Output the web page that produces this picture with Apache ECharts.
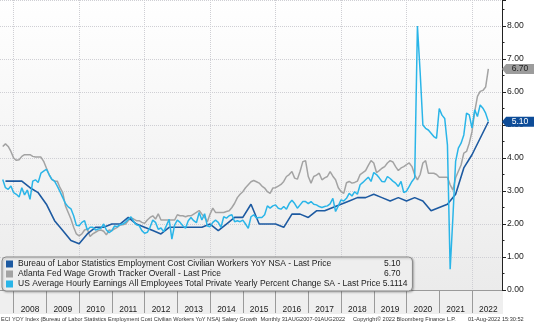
<!DOCTYPE html>
<html>
<head>
<meta charset="utf-8">
<script src="https://cdn.jsdelivr.net/npm/echarts@6/dist/echarts.min.js"></script>
<style>
  html, body { margin: 0; padding: 0; background: #ffffff; }
  #chart { width: 534px; height: 324px; }
</style>
</head>
<body>
<div id="chart"></div>
<script>
// Monthly (month-end) categories, Jul 2007 .. Nov 2022
const categories = [];
for (let k = 0; k < 185; k++) {
  const d = new Date(2007, 6 + k, 1);
  categories.push(d.getFullYear() + '-' + String(d.getMonth() + 1).padStart(2, '0'));
}
const yearLabels = ['2008','2009','2010','2011','2012','2013','2014','2015','2016','2017','2018','2019','2020','2021','2022'];

const eciName = 'Bureau of Labor Statistics Employment Cost Civilian Workers YoY NSA';
const atlName = 'Atlanta Fed Wage Growth Tracker Overall';
const aheName = 'US Average Hourly Earnings All Employees Total Private Yearly Percent Change SA';

// ECI, quarterly, quarter ends Sep 2007 .. Jun 2022
const eciFirstMonth = '2007-09';
const eciValues = [
  3.3, 3.3, 3.3, 3.1, 2.95, 2.6, 2.1, 1.8, 1.5, 1.4,
  1.7, 1.9, 1.9, 2.0, 2.0, 2.2, 2.0, 1.9, 1.8, 1.7,
  1.9, 1.9, 1.9, 1.9, 1.9, 2.0, 1.8, 2.0, 2.2, 2.2,
  2.6, 2.0, 2.0, 2.0, 1.9, 2.3, 2.3, 2.2, 2.4, 2.4,
  2.5, 2.6, 2.7, 2.8, 2.8, 2.9, 2.8, 2.7, 2.8, 2.7,
  2.8, 2.7, 2.4, 2.5, 2.6, 2.9, 3.7, 4.1, 4.6, 5.1
];

// Atlanta Fed wage tracker, monthly Aug 2007 .. Jun 2022
const atlFirstMonth = '2007-08';
const atlValues = [
  4.35, 4.43, 4.35, 4.2, 4.0,
  3.93, 3.95, 4.05, 4.1, 4.1, 4.1, 4.05, 4.03, 4.03, 4.03, 3.9, 3.7,
  3.5, 3.35, 3.3, 3.3, 3.1, 2.95, 2.55, 2.35, 2.15, 1.9, 1.7, 1.64,
  1.7, 1.82, 1.85, 1.62, 1.7, 1.75, 1.8, 1.82, 1.78, 1.67, 1.82, 1.8,
  1.85, 1.9, 1.97, 1.98, 2.0, 2.1, 2.18, 2.15, 2.1, 2.1, 2.05, 2.02,
  2.12, 2.2, 2.25, 2.15, 2.31, 2.12, 2.12, 2.12, 2.12, 2.12, 2.12, 2.28,
  2.25, 2.25, 2.22, 2.25, 2.25, 2.3, 2.35, 2.41, 2.3, 2.2, 2.07, 2.3,
  2.48, 2.35, 2.35, 2.35, 2.35, 2.38, 2.4, 2.5, 2.63, 2.8, 2.9, 2.98,
  3.1, 3.19, 3.28, 3.32, 3.28, 3.24, 3.15, 3.09, 2.98, 2.93, 3.09, 3.1,
  3.15, 3.2, 3.29, 3.44, 3.5, 3.59, 3.39, 3.36, 3.6, 3.89, 3.92, 3.44,
  3.24, 3.44, 3.48, 3.54, 3.34, 3.4, 3.44, 3.59, 3.45, 3.34, 3.1, 2.98,
  2.93, 3.25, 3.29, 3.24, 3.26, 3.3, 3.5, 3.56, 3.62, 3.78, 3.92, 3.85,
  3.56, 3.62, 3.69, 3.74, 3.85, 3.92, 3.88, 3.74, 3.62, 3.7, 3.74, 3.8,
  3.85, 3.74, 3.49, 3.34, 3.5, 3.85, 3.92, 3.54, 3.54, 3.54, 3.5, 3.42,
  3.42, 3.42, 3.42, 3.19, 3.03, 3.4, 3.6, 3.79, 4.15, 4.2, 4.45, 4.8,
  5.41, 5.87, 6.02, 6.05, 6.15, 6.7
];

// Average hourly earnings YoY, monthly Aug 2007 .. Jun 2022
const aheFirstMonth = '2007-08';
const aheValues = [
  3.35, 3.1, 3.05, 3.15, 2.95,
  2.9, 2.82, 3.1, 2.88, 3.03, 2.75, 3.3, 3.34, 3.26, 3.54, 3.6, 3.66,
  3.5, 3.35, 3.3, 3.15, 2.98, 2.8, 2.62, 2.52, 2.46, 2.25, 1.96, 1.95,
  2.05, 2.1, 1.82, 1.9, 1.9, 1.82, 1.85, 1.87, 2.0, 1.82, 1.74, 1.8,
  1.94, 1.92, 1.98, 2.0, 2.05, 2.14, 2.22, 2.07, 1.98, 1.95, 1.8, 1.72,
  1.75, 1.9, 2.12, 2.05, 1.84, 1.88, 1.77, 1.95, 2.14, 1.54, 1.97, 2.12,
  2.05, 1.95, 1.87, 2.1, 2.2, 2.1, 2.04, 2.35, 2.12, 2.31, 1.94, 1.92,
  2.05, 2.12, 2.05, 1.9, 2.22, 2.18, 2.25, 2.28, 2.07, 2.1, 2.07, 2.12,
  2.0, 1.87, 2.22, 2.28, 2.18, 2.2, 2.2, 2.28, 2.55, 2.48, 2.55, 2.58,
  2.48, 2.45, 2.53, 2.45, 2.62, 2.72, 2.62, 2.48, 2.58, 2.68, 2.68, 2.62,
  2.68, 2.6, 2.58, 2.53, 2.5, 2.53, 2.55, 2.61, 2.78, 2.38, 2.55, 2.73,
  2.7, 2.78, 2.93, 2.85, 2.98, 2.9, 3.19, 3.26, 3.34, 3.42, 3.29, 3.56,
  3.5, 3.4, 3.29, 3.28, 3.44, 3.38, 3.3, 3.24, 3.14, 3.29, 2.95, 3.0,
  3.14, 3.29, 3.4, 8.0, 6.6, 5.0, 4.9, 4.85, 4.75, 4.65, 4.6, 5.5,
  5.3, 5.2, 4.4, 0.63, 2.2, 3.9, 4.3, 4.45, 4.7, 5.36, 5.31, 4.91,
  5.46, 5.26, 5.61, 5.51, 5.36, 5.1114
];

// Spread a series onto the monthly category axis (null where no observation)
function placeOnAxis(firstMonth, values, step) {
  const out = new Array(categories.length).fill(null);
  const start = categories.indexOf(firstMonth);
  values.forEach((v, k) => { out[start + k * step] = v; });
  return out;
}

const eciLast = eciValues[eciValues.length - 1];
const atlLast = atlValues[atlValues.length - 1];
const aheLast = aheValues[aheValues.length - 1];

const FONT = 'Liberation Sans';
const C_ECI = '#1d5aa1';
const C_ATL = '#a3a3a3';
const C_AHE = '#2ab5e8';

const legendText = {};
legendText[eciName] = '{n|' + eciName + ' - Last Price}{v|' + eciLast.toFixed(2) + '}';
legendText[atlName] = '{n|' + atlName + ' - Last Price}{v|' + atlLast.toFixed(2) + '}';
legendText[aheName] = '{t|' + aheName + ' - Last Price ' + aheLast.toFixed(4) + '}';

// Price tag pinned to the right axis
function axisTag(value, fill, textColor) {
  return {
    silent: true,
    symbol: 'path://M0,5 L4,0 L31,0 L31,10 L4,10 Z',
    symbolSize: [32, 10],
    symbolOffset: [16, 0],
    symbolKeepAspect: false,
    itemStyle: { color: fill },
    label: {
      show: true, position: 'inside', offset: [2, 0],
      formatter: value.toFixed(2), color: textColor,
      fontFamily: FONT, fontSize: 8.6
    },
    data: [{ coord: [categories[categories.length - 1], value], value: value }]
  };
}

const chart = echarts.init(document.getElementById('chart'), null, { renderer: 'canvas' });

const LF = 8.5;
chart.setOption({
  animation: false,
  backgroundColor: '#ffffff',
  textStyle: { fontFamily: FONT },
  grid: {
    left: -2, right: 32, top: 0, bottom: 34,
    show: true, borderWidth: 0,
    backgroundColor: new echarts.graphic.LinearGradient(0, 0, 0, 1, [
      { offset: 0, color: '#ffffff' },
      { offset: 1, color: '#ebebeb' }
    ])
  },
  legend: {
    orient: 'vertical',
    left: 2, top: 257,
    padding: [2, 5, 2, 4],
    itemGap: 0,
    itemWidth: 7, itemHeight: 7,
    icon: 'rect',
    selectedMode: false,
    backgroundColor: '#eeeeee',
    borderColor: '#8a8a8a', borderWidth: 1, borderRadius: 4,
    shadowBlur: 2, shadowColor: 'rgba(0,0,0,0.25)', shadowOffsetX: 1, shadowOffsetY: 1,
    data: [eciName, atlName, aheName],
    formatter: name => legendText[name],
    textStyle: {
      fontFamily: FONT, fontSize: LF, color: '#222', lineHeight: 10,
      rich: {
        n: { fontFamily: FONT, fontSize: LF, color: '#222', width: 366, lineHeight: 10 },
        v: { fontFamily: FONT, fontSize: LF, color: '#222', lineHeight: 10 },
        t: { fontFamily: FONT, fontSize: LF, color: '#222', lineHeight: 10 }
      }
    }
  },
  xAxis: {
    type: 'category',
    data: categories,
    boundaryGap: false,
    axisLine: { lineStyle: { color: '#9a9a9a', width: 1 } },
    axisTick: {
      interval: (i, v) => v.endsWith('-12'),
      length: 23,
      lineStyle: { color: '#9a9a9a' }
    },
    axisLabel: {
      interval: (i, v) => v.endsWith('-06') && yearLabels.includes(v.slice(0, 4)),
      formatter: v => v.slice(0, 4),
      margin: 16,
      fontFamily: FONT, fontSize: 8.4, color: '#222'
    },
    splitLine: {
      show: true,
      interval: (i, v) => v.endsWith('-12') && (+v.slice(0, 4)) % 2 === 1,
      lineStyle: { type: 'dotted', color: '#cfcfd4' }
    }
  },
  yAxis: {
    type: 'value',
    position: 'right',
    min: 0, max: 8.79, interval: 1,
    axisLine: { show: true, lineStyle: { color: '#222' } },
    axisTick: { show: true, length: 4, lineStyle: { color: '#222' } },
    minorTick: { show: true, splitNumber: 2, length: 2.5, lineStyle: { color: '#222' } },
    axisLabel: {
      margin: 5, showMaxLabel: false,
      formatter: v => (Math.abs(v - Math.round(v)) < 1e-6 ? v.toFixed(2) : ''),
      fontFamily: FONT, fontSize: 8.6, color: '#222'
    },
    splitLine: { show: true, lineStyle: { type: 'dotted', color: '#cfcfd4' } }
  },
  graphic: [
    { type: 'rect', z: -10, left: 0, top: 291, shape: { width: 503, height: 23 }, style: { fill: '#efefef' } },
    { type: 'text', left: 1, top: 316, style: { text: 'ECI YOY Index (Bureau of Labor Statistics Employment Cost Civilian Workers YoY NSA) Salary Growth  Monthly 31AUG2007-01AUG2022', font: '5.6px "Liberation Sans"', fill: '#333' } },
    { type: 'text', left: 353, top: 316, style: { text: 'Copyright\u00A9 2022 Bloomberg Finance L.P.', font: '5.6px "Liberation Sans"', fill: '#333' } },
    { type: 'text', left: 468, top: 316, style: { text: '01-Aug-2022 15:30:52', font: '5.6px "Liberation Sans"', fill: '#333' } }
  ],
  series: [
    {
      name: eciName, type: 'line', z: 3,
      data: placeOnAxis(eciFirstMonth, eciValues, 3),
      connectNulls: true, showSymbol: false,
      color: C_ECI, lineStyle: { color: C_ECI, width: 1.6 },
      markPoint: axisTag(eciLast, '#0d4c98', '#ffffff')
    },
    {
      name: atlName, type: 'line', z: 2,
      data: placeOnAxis(atlFirstMonth, atlValues, 1),
      showSymbol: false,
      color: C_ATL, lineStyle: { color: C_ATL, width: 1.5 },
      markPoint: axisTag(atlLast, '#9c9c9c', '#1e1e1e')
    },
    {
      name: aheName, type: 'line', z: 4,
      data: placeOnAxis(aheFirstMonth, aheValues, 1),
      showSymbol: false,
      color: C_AHE, lineStyle: { color: C_AHE, width: 1.5 }
    }
  ]
});
</script>
</body>
</html>
